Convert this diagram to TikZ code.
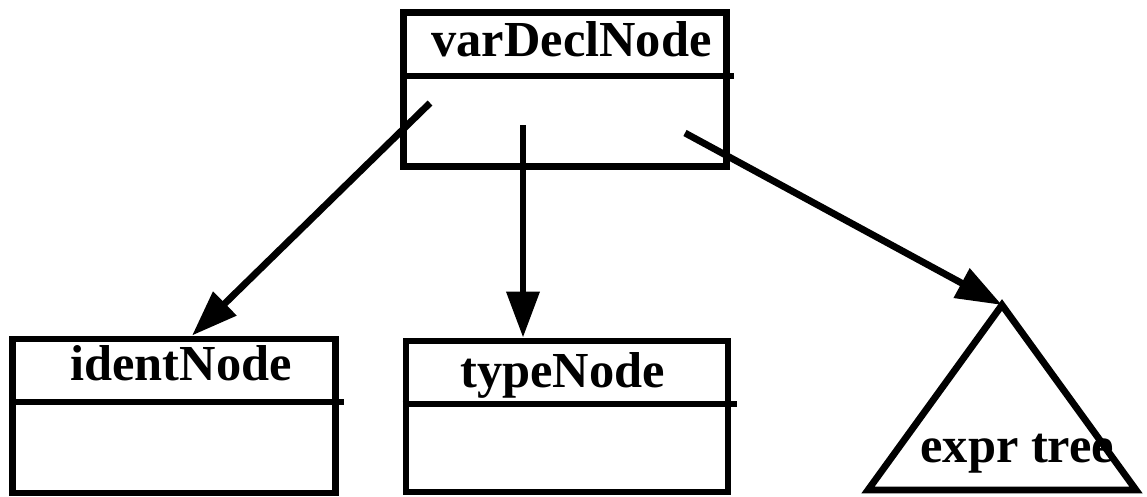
\documentclass[tikz,border=0pt]{standalone}
\usepackage{fontspec}
\setmainfont{Liberation Serif}
\usetikzlibrary{arrows.meta,positioning}

\begin{document}
\begin{tikzpicture}[x=0.02cm,y=-0.02cm,line width=3.9pt,line join=miter,
  >={Triangle[length=0.92cm,width=0.64cm]},
  box/.style={draw,rectangle,inner sep=0pt,minimum width=6.46cm,minimum height=3.08cm},
  title/.style={anchor=base west,inner sep=0pt,font=\bfseries\fontsize{28.7}{30}\selectfont}]
  \useasboundingbox (0,0) rectangle (1147,497);

  \node[box] (varDecl) at (565,89.5) {};      %parent box
  \node[box] (ident) at (174,416) {};          %left child
  \node[box,minimum width=6.44cm,minimum height=3.02cm] (type) at (567,416.5) {}; %middle child

  \draw (varDecl.west |- 0,76) -- (734,76) ;  %dividers
  \draw (ident.west |- 0,402) -- (344,402) ;
  \draw (type.west |- 0,404) -- (737,404) ;

  \node[title] (varDeclName) at (428,56) {varDeclNode};
  \node[title] (identName) at (67,380) {identNode};
  \node[title] (typeName) at (457,387) {typeNode};

  \coordinate (apex) at (1002,305) ;
  \draw (apex) -- (868,490) -- (1136,490) -- cycle ;  %expr tree
  \node[title] (exprName) at (917,462) {expr tree};

  \coordinate (vLeft) at (430,103) ;
  \coordinate (vMid) at (523,125) ;
  \coordinate (vRight) at (685,133) ;
  \draw[->] (vLeft) -- (ident.north -| 192,0);
  \draw[->] (vMid) -- (type.north -| vMid);
  \draw[->] (vRight) -- (apex);
\end{tikzpicture}
\end{document}
